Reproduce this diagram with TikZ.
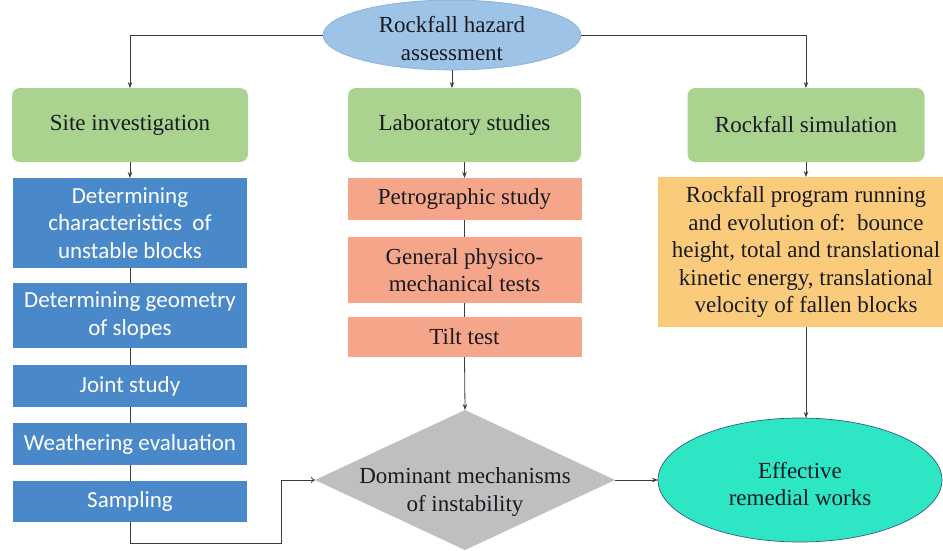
\documentclass[tikz,border=0pt]{standalone}
\usepackage{fontspec}
\setmainfont{Liberation Serif}
\newfontfamily\calib{Carlito}
\usetikzlibrary{shapes.geometric,arrows.meta}
\definecolor{topfill}{HTML}{9DC3E6}
\definecolor{topdraw}{HTML}{86ABD8}
\definecolor{greenfill}{HTML}{A9D38E}
\definecolor{bluefill}{HTML}{4A89C9}
\definecolor{salfill}{HTML}{F5A68A}
\definecolor{orfill}{HTML}{FACB7A}
\definecolor{diafill}{HTML}{BFBFBF}
\definecolor{turqfill}{HTML}{2DE6C4}
\definecolor{turqdraw}{HTML}{3E5C78}
\definecolor{linec}{HTML}{3C3C3C}
\definecolor{txt}{HTML}{1A1A22}
\begin{document}
\begin{tikzpicture}[x=1pt,y=-1pt,
  every node/.style={inner sep=0pt,outer sep=0pt,align=center,text=txt,
    font=\rmfamily\fontsize{23}{27.5}\selectfont},
  greenbox/.style={rectangle,rounded corners=8pt,fill=greenfill,minimum height=74pt},
  bluebox/.style={rectangle,fill=bluefill,minimum width=234pt,text=white,
    font=\calib\fontsize{23}{27.5}\selectfont},
  salbox/.style={rectangle,fill=salfill,minimum width=234pt},
  conn/.style={draw=linec,line width=0.8pt},
  arr/.style={conn,-{Stealth[length=6pt,width=4.5pt]}},
  openarr/.style={conn,-{To[length=4pt,width=6pt]}}
]
\useasboundingbox (0,0) rectangle (943,550);
\fill[white] (0,0) rectangle (943,550);

% top ellipse
\node[ellipse,fill=topfill,draw=topdraw,line width=0.6pt,minimum width=258pt,minimum height=70pt] (top) at (452,35) {};
\node (toptext) at (452,38.5) {Rockfall hazard\\assessment};

% green boxes
\node[greenbox,minimum width=236pt] (site) at (130,125) {Site investigation};
\node[greenbox,minimum width=233pt] (lab) at (464.5,125) {Laboratory studies};
\node[greenbox,minimum width=237pt] (sim) at (806,125) {Rockfall simulation};

% blue boxes
\node[bluebox,minimum height=90pt] (b1) at (130,223) {Determining\\characteristics\ \ of\\unstable blocks};
\node[bluebox,minimum height=65pt] (b2) at (130,315.5) {Determining geometry\\of slopes};
\node[bluebox,minimum height=42pt] (b3) at (130,386) {Joint study};
\node[bluebox,minimum height=42pt] (b4) at (130,444) {Weathering evaluation};
\node[bluebox,minimum height=41pt] (b5) at (130,501.5) {Sampling};

% salmon boxes
\node[salbox,minimum height=42pt] (p1) at (464.5,199) {Petrographic study};
\node[salbox,minimum height=66pt] (p2) at (464.5,270) {General physico-\\mechanical tests};
\node[salbox,minimum height=40pt] (p3) at (464.5,337) {Tilt test};

% orange box
\node[rectangle,fill=orfill,minimum width=296pt,minimum height=150pt] (orb) at (806,252)
  {Rockfall program running\\and evolution of:\ \ bounce\\height, total and translational\\kinetic energy, translational\\velocity of fallen blocks};

% diamond
\node[diamond,fill=diafill,minimum width=300pt,minimum height=140pt] (dia) at (465,480) {};
\node (diatext) at (465,492) {Dominant mechanisms\\of instability};

% turquoise ellipse
\node[ellipse,fill=turqfill,draw=turqdraw,line width=0.7pt,minimum width=284pt,minimum height=124pt] (eff) at (800,480) {};
\node (efftext) at (800,484) {Effective\\remedial works};

\coordinate (c1) at (281,543);

% connectors
\draw[arr] (top.west) -| (site.north);
\draw[arr] (top.east) -| (sim.north);
\draw[arr] (top.south) -- (top.south |- lab.north);
\draw[arr] (site.south) -- (b1.north);
\draw[arr] (lab.south) -- (p1.north);
\draw[arr] (sim.south) -- (orb.north);
\draw[conn] (b1.south) -- (b2.north);
\draw[conn] (b2.south) -- (b3.north);
\draw[conn] (b3.south) -- (b4.north);
\draw[conn] (b4.south) -- (b5.north);
\draw[conn] (p1.south) -- (p2.north);
\draw[conn] (p2.south) -- (p3.north);
\draw[arr] (p3.south) -- (dia.north);
\draw[openarr] (b5.south) |- (c1) |- (dia.west);
\draw[arr] (dia.east) -- (eff.west);
\draw[arr] (orb.south) -- (orb.south |- eff.north);
\end{tikzpicture}
\end{document}
